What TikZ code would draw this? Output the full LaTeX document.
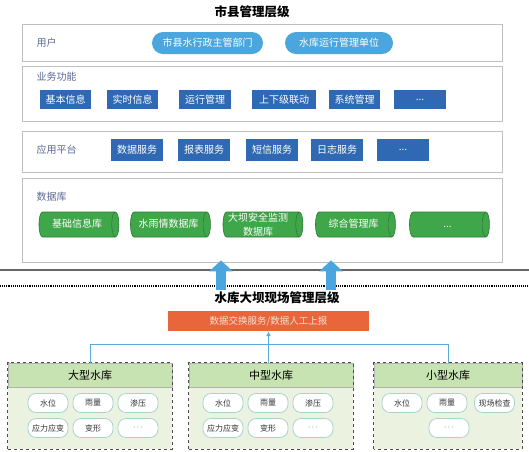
\documentclass[tikz,border=0pt]{standalone}
\usepackage{fontspec}
\setmainfont{Noto Sans CJK SC}
\usetikzlibrary{shapes.geometric,arrows.meta}
\definecolor{usrblue}{HTML}{4AA6DC}
\definecolor{funblue}{HTML}{2F69B3}
\definecolor{dbgreen}{HTML}{3FA64A}
\definecolor{dbedge}{HTML}{2C7A35}
\definecolor{xchorange}{HTML}{E8663A}
\definecolor{labgray}{HTML}{5C6894}
\definecolor{headgreen}{HTML}{C8E3B2}
\definecolor{bodygreen}{HTML}{EBF2E0}
\definecolor{pilledge}{HTML}{A9D3CF}
\definecolor{linkblue}{HTML}{5AAADC}
\newcommand\moredots{...}
\tikzset{
  layer/.style={draw=gray!50, line width=0.8pt, fill=white, minimum width=480pt, inner sep=0pt},
  laylabel/.style={anchor=west, text=labgray, font=\fontsize{10}{11}\selectfont},
  usrpill/.style={rounded corners=11pt, fill=usrblue, text=white, minimum height=22pt, inner sep=1pt, font=\fontsize{10}{11}\selectfont},
  funbox/.style={fill=funblue, text=white, minimum height=19pt, minimum width=51pt, inner sep=1pt, font=\fontsize{10}{11}\selectfont},
  dbcyl/.style={cylinder, aspect=0.9, draw=dbedge, line width=0.6pt, cylinder uses custom fill, cylinder body fill=dbgreen, cylinder end fill=dbgreen, text=white, minimum height=80pt, minimum width=25pt, inner sep=0pt, text height=7pt, text depth=1pt, font=\fontsize{10}{11}\selectfont},
  dbtext/.style={text=white, align=center, inner sep=0pt, font=\fontsize{10}{11}\selectfont},
  grpbox/.style={fill=bodygreen, minimum height=86pt, inner sep=0pt},
  grphead/.style={fill=headgreen, draw=gray!60, line width=0.5pt, minimum height=24pt, inner sep=0pt, anchor=north, font=\fontsize{11}{12}\selectfont},
  sitepill/.style={draw=pilledge, line width=0.8pt, fill=white, rounded corners=8pt, minimum width=40pt, minimum height=19pt, inner sep=0pt, text=black!80, font=\fontsize{8}{9}\selectfont},
  bigarrow/.style={draw=usrblue, line width=10pt, -{Triangle[width=23pt,length=11pt]}},
  link/.style={draw=linkblue, line width=1pt},
}
\begin{document}
\begin{tikzpicture}[x=1pt, y=-1pt, >=latex]
    \useasboundingbox (0,0) rectangle (529,451);
    % upper level: city and county
    \node[font=\fontsize{12.5}{13}\selectfont\bfseries] (topT) at (252,12) {市县管理层级};
    \node[layer, minimum height=37pt] (usr) at (262,42.5) {};
    \node[layer, minimum height=55pt] (fun) at (262,93.5) {};
    \node[layer, minimum height=41pt] (app) at (262,151.5) {};
    \node[layer, minimum height=84pt] (db) at (262,220) {};
    \node[laylabel] (usrL) at (33,43) {用户};
    \node[laylabel] (funL) at (33,77) {业务功能};
    \node[laylabel] (appL) at (33,150) {应用平台};
    \node[laylabel] (dbL) at (33,197) {数据库};
    % users
    \node[usrpill, minimum width=111pt] (u1) at (207.5,43) {市县水行政主管部门};
    \node[usrpill, minimum width=108pt] (u2) at (339,43) {水库运行管理单位};
    % business functions
    \foreach \x/\w/\t [count=\i] in {65.5/51/基本信息, 132.5/51/实时信息, 205/52/运行管理, 284/64/上下级联动, 354.5/51/系统管理, 420/52/\moredots}
        \node[funbox, minimum width=\w pt] (f\i) at (\x,99.5) {\t};
    % application platform
    \foreach \x/\t [count=\i] in {137/数据服务, 204/报表服务, 272/短信服务, 337/日志服务, 403/\moredots}
        \node[funbox, minimum width=52pt, minimum height=22pt] (a\i) at (\x,150) {\t};
    % databases
    \foreach \x/\t [count=\i] in {77/基础信息库, 168.5/水雨情数据库, 261/{}, 353.5/综合管理库, 447.5/\moredots}
        \node[dbcyl] (d\i) at (\x,224.5) {\t};
    \node[dbtext] (d3T) at ([xshift=-3pt]d3.center) {大坝安全监测\\[3pt]数据库};
    % level separators
    \draw[gray!80!black, line width=1.1pt] (0,270) -- (529,270);
    \draw[black, line width=1.1pt, densely dotted] (0,286) -- (529,286);
    \coordinate (upL) at (221,290);
    \coordinate (upR) at (331,290);
    \draw[bigarrow] (upL) -- ([yshift=2pt]upL |- db.south);
    \draw[bigarrow] (upR) -- ([yshift=2pt]upR |- db.south);
    % lower level: reservoir site
    \node[font=\fontsize{12.5}{13}\selectfont\bfseries] (lowT) at (277,298) {水库大坝现场管理层级};
    \node[fill=xchorange, text=xchorange!20, minimum width=201pt, minimum height=20pt, inner sep=0pt, font=\fontsize{9.5}{10}\selectfont] (xch) at (268.5,321) {数据交换服务/数据人工上报};
    % reservoir groups
    \foreach \n/\x/\w/\t in {large/90/164/大型水库, middle/271/164/中型水库, small/448/148/小型水库} {
        \node[grpbox, minimum width=\w pt] (\n) at (\x,406) {};
        \node[grphead, minimum width=\w pt] (\n H) at (\n.north) {\t};
        \draw[black!70, line width=0.9pt, dashed] (\n.south west) rectangle (\n.north east);
    }
    \foreach \x/\t [count=\i] in {48/水位, 93/雨量, 138/渗压}
        \node[sitepill] (l\i) at (\x,403) {\t};
    \foreach \x/\t [count=\i from 4] in {48/应力应变, 93/变形, 138/$\cdots$}
        \node[sitepill] (l\i) at (\x,428) {\t};
    \foreach \x/\t [count=\i] in {223/水位, 268/雨量, 313/渗压}
        \node[sitepill] (m\i) at (\x,403) {\t};
    \foreach \x/\t [count=\i from 4] in {223/应力应变, 268/变形, 313/$\cdots$}
        \node[sitepill] (m\i) at (\x,428) {\t};
    \foreach \x/\t [count=\i] in {402/水位, 447/雨量, 494.5/现场检查}
        \node[sitepill] (s\i) at (\x,403) {\t};
    \node[sitepill] (s4) at (449,428) {$\cdots$};
    % links to the exchange service
    \draw[link] (large.north) -- ++(0,-18) -| (small.north);
    \draw[link, -{Latex[length=5pt,width=5pt]}] (xch.south |- middle.north) -- (xch.south);
\end{tikzpicture}
\end{document}
